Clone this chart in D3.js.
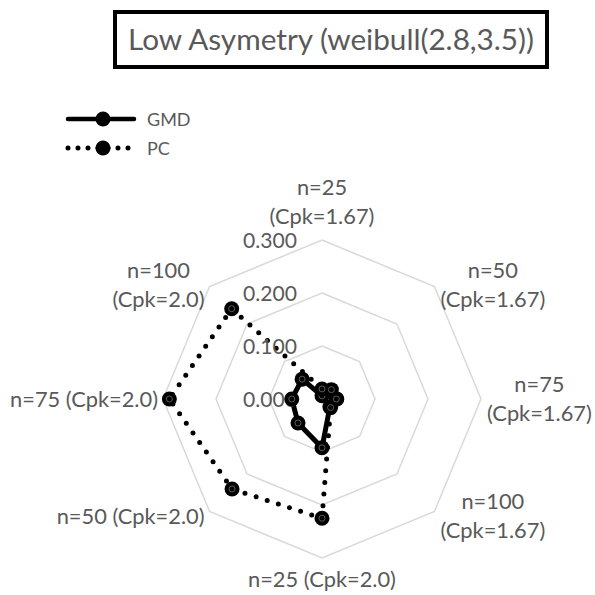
<!DOCTYPE html>
<html>
<head>
<meta charset="utf-8">
<script src="https://cdn.jsdelivr.net/npm/d3@7"></script>
<style>
  html, body { margin: 0; padding: 0; background: #fff; }
  svg { display: block; }
</style>
</head>
<body>
<svg id="chart" width="595" height="595"></svg>
<script>
// ---------------- data ----------------
const title = "Low Asymetry (weibull(2.8,3.5))";
const categories = [
  "n=25 (Cpk=1.67)", "n=50 (Cpk=1.67)", "n=75 (Cpk=1.67)", "n=100 (Cpk=1.67)",
  "n=25 (Cpk=2.0)", "n=50 (Cpk=2.0)", "n=75 (Cpk=2.0)", "n=100 (Cpk=2.0)"
];
const wrapLabel = [true, true, true, true, false, false, false, true];
const seriesNames = ["GMD", "PC"];
const gmdValues = [0.006, 0.022, 0.028, 0.021, 0.092, 0.064, 0.057, 0.053];
const pcValues  = [0.019, 0.025, 0.027, 0.023, 0.225, 0.240, 0.288, 0.241];
const tickValues = [0, 0.1, 0.2, 0.3];

// ---------------- layout ----------------
const svg = d3.select("#chart");
const FONT = "Lato, 'Open Sans', sans-serif";
const TXT = "#595959";
const cx = 322, cy = 399, R = 159;
const n = categories.length;
const rScale = d3.scaleLinear().domain([0, 0.3]).range([0, R]);
const ang = i => i * 2 * Math.PI / n;
const px = (i, v) => cx + rScale(v) * Math.sin(ang(i));
const py = (i, v) => cy - rScale(v) * Math.cos(ang(i));

function fitSize(str, target) {
  const t = svg.append("text").attr("font-family", FONT).attr("font-size", 100).text(str);
  const w = t.node().getComputedTextLength();
  t.remove();
  return 100 * target / w;
}
const axisFs = fitSize("n=75 (Cpk=2.0)", 148);
const tickFs = fitSize("0.300", 54);
const titleFs = fitSize(title, 406);
const legFs = 18;

// ---------------- title ----------------
svg.append("rect").attr("x", 115).attr("y", 12).attr("width", 432).attr("height", 55)
  .attr("fill", "#fff").attr("stroke", "#000").attr("stroke-width", 4);
svg.append("text").attr("x", 331).attr("y", 50).attr("text-anchor", "middle")
  .attr("font-family", FONT).attr("font-size", titleFs).attr("fill", TXT).text(title);

// ---------------- grid ----------------
const gridLine = d3.lineRadial().angle((d, i) => ang(i)).radius(d => rScale(d)).curve(d3.curveLinearClosed);
const g = svg.append("g").attr("transform", `translate(${cx},${cy})`);
g.selectAll("path.grid").data(tickValues.filter(t => t > 0)).join("path")
  .attr("class", "grid")
  .attr("d", t => gridLine(categories.map(() => t)))
  .attr("fill", "none").attr("stroke", "#d9d9d9").attr("stroke-width", 1.5);

// tick labels
const fmt = d3.format(".3f");
svg.selectAll("text.tick").data(tickValues).join("text")
  .attr("class", "tick")
  .attr("x", cx - 25).attr("y", t => cy - rScale(t) + 8)
  .attr("text-anchor", "end").attr("font-family", FONT).attr("font-size", tickFs)
  .attr("fill", TXT).text(t => fmt(t));

// category labels
const lineH = 29;
categories.forEach((c, i) => {
  let lines;
  if (wrapLabel[i]) { const k = c.indexOf(" "); lines = [c.slice(0, k), c.slice(k + 1)]; }
  else lines = [c];
  const grp = svg.append("g");
  const texts = lines.map(l => grp.append("text").attr("font-family", FONT)
    .attr("font-size", axisFs).attr("fill", TXT).attr("text-anchor", "middle").text(l));
  const bw = d3.max(texts, t => t.node().getComputedTextLength());
  const vx = px(i, 0.3), vy = py(i, 0.3);
  const sx = Math.sin(ang(i)), sy = -Math.cos(ang(i));
  let bx, byCenter;
  const bh = lines.length * lineH;
  if (Math.abs(sx) < 0.01) {
    bx = vx;
    if (sy < 0) byCenter = vy - 24 - (lines.length - 1) * lineH / 2;
    else byCenter = vy + 21 + (lines.length - 1) * lineH / 2;
  } else {
    bx = sx > 0 ? vx + 6 + bw / 2 : vx - 5 - bw / 2;
    if (Math.abs(sy) < 0.01) byCenter = vy;
    else byCenter = sy < 0 ? vy - 2 : vy + 5;
  }
  texts.forEach((t, j) => {
    const lc = byCenter - bh / 2 + lineH / 2 + j * lineH;
    t.attr("x", bx).attr("y", lc + 7.5);
  });
});

// ---------------- series ----------------
const dataLine = d3.lineRadial().angle((d, i) => ang(i)).radius(d => rScale(d)).curve(d3.curveLinearClosed);
const series = [
  { name: seriesNames[0], values: gmdValues, dash: null },
  { name: seriesNames[1], values: pcValues, dash: "0 11.7" }
];
series.forEach(s => {
  g.append("path").attr("d", dataLine(s.values))
    .attr("fill", "none").attr("stroke", "#000").attr("stroke-width", 5)
    .attr("stroke-linecap", "round").attr("stroke-linejoin", "round")
    .attr("stroke-dasharray", s.dash);
  const mk = svg.append("g");
  mk.selectAll("circle.m").data(s.values).join("circle").attr("class", "m")
    .attr("cx", (d, i) => px(i, d)).attr("cy", (d, i) => py(i, d)).attr("r", 7.5).attr("fill", "#000");
  mk.selectAll("circle.in").data(s.values).join("circle").attr("class", "in")
    .attr("cx", (d, i) => px(i, d)).attr("cy", (d, i) => py(i, d)).attr("r", 3)
    .attr("fill", "none").attr("stroke", "#7f7f7f").attr("stroke-width", 0.7);
});

// ---------------- legend ----------------
const leg = svg.append("g");
series.forEach((s, k) => {
  const y = 119 + k * 29;
  leg.append("line").attr("x1", 68).attr("x2", 134).attr("y1", y).attr("y2", y)
    .attr("stroke", "#000").attr("stroke-width", s.dash ? 5 : 4.5)
    .attr("stroke-linecap", "round").attr("stroke-dasharray", s.dash ? "0 10" : null);
  leg.append("circle").attr("cx", 103).attr("cy", y).attr("r", 7.5).attr("fill", "#000");
  leg.append("text").attr("x", 147).attr("y", y + 6.5).attr("font-family", FONT)
    .attr("font-size", legFs).attr("fill", TXT).text(s.name);
});
</script>
</body>
</html>
